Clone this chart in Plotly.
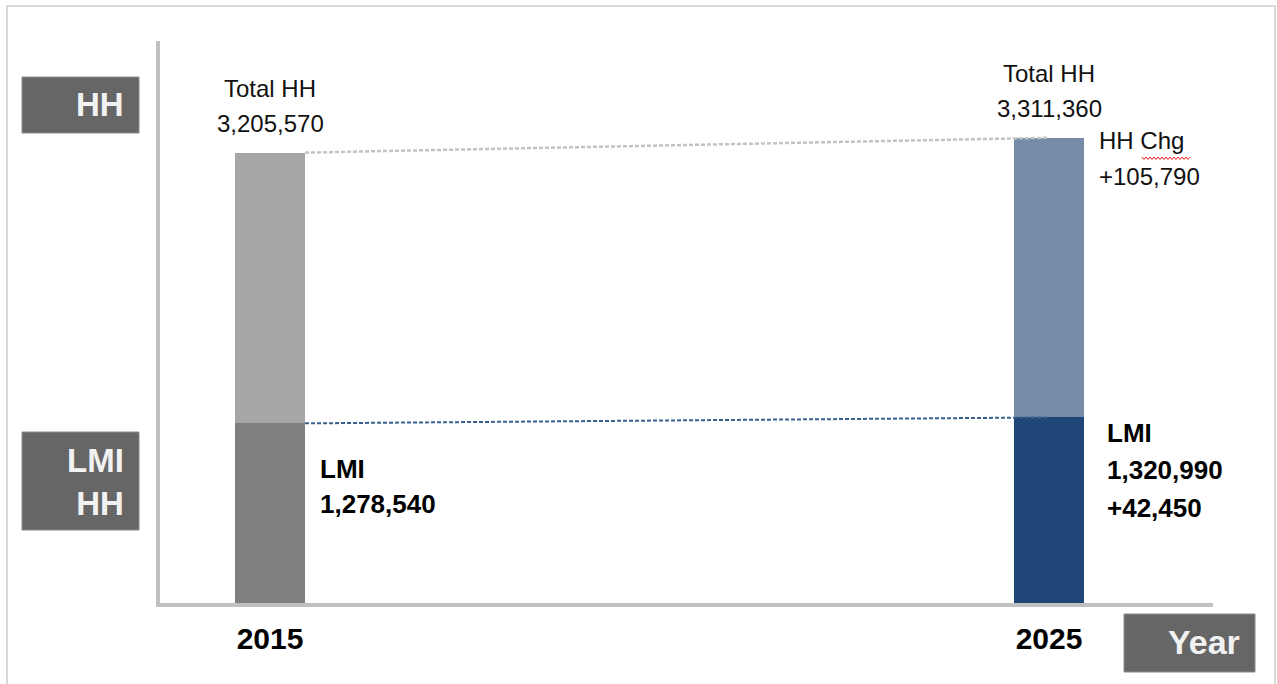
import plotly.graph_objects as go

# ---- data ----
years = [2015, 2025]
tick_labels = ["2015", "2025"]
total_hh = [3205570, 3311360]
lmi_hh = [1278540, 1320990]
hh_change = 105790
lmi_change = 42450

# ---- geometry helpers (pixel -> paper) ----
W, H = 1277, 684
L, R, T, B = 160, 64, 41, 81
PW, PH = W - L - R, H - T - B


def px(x):
    return (x - L) / PW


def py(y):
    return (H - B - y) / PH


non_lmi = [t - l for t, l in zip(total_hh, lmi_hh)]
BAR_W = 0.9

FONT = "Liberation Sans, Arial, sans-serif"

fig = go.Figure()
fig.add_trace(go.Bar(x=years, y=lmi_hh, width=BAR_W,
                     marker=dict(color=["#7f7f7f", "#1f4677"], line_width=0),
                     hoverinfo="skip"))
fig.add_trace(go.Bar(x=years, y=non_lmi, width=BAR_W,
                     marker=dict(color=["#a6a6a6", "#768ba8"], line_width=0),
                     hoverinfo="skip"))
# connector lines between bar tops
fig.add_trace(go.Scatter(x=[years[0] + BAR_W / 2, years[1]], y=total_hh, mode="lines",
                         line=dict(color="#c3c3c3", width=2.5, dash="4px,2px"),
                         hoverinfo="skip"))
fig.add_trace(go.Scatter(x=[years[0] + BAR_W / 2, years[1]], y=lmi_hh, mode="lines",
                         line=dict(color="#3a5f8f", width=2, dash="4px,2px"),
                         hoverinfo="skip"))

ann = []
norm_font = dict(family=FONT, size=24, color="#111111")
bold_font = dict(family=FONT, size=26, color="#000000")

# totals above bars (one annotation per line)
for yr, tot in zip(years, total_hh):
    for txt, shift in [("Total HH", 64), (f"{tot:,}", 29)]:
        ann.append(dict(x=yr, y=tot, xref="x", yref="y", yanchor="middle", xanchor="center",
                        yshift=shift, showarrow=False, text=txt, font=norm_font))


def side_lines(year, xshift, lines, centers, font):
    for txt, cy in zip(lines, centers):
        ann.append(dict(x=year, xref="x", xshift=xshift, y=py(cy), yref="paper",
                        xanchor="left", yanchor="middle", showarrow=False, text=txt,
                        font=font))


side_lines(years[0], 48, ["<b>LMI</b>", f"<b>{lmi_hh[0]:,}</b>"], [468.5, 504], bold_font)
side_lines(years[1], 56, ["<b>LMI</b>", f"<b>{lmi_hh[1]:,}</b>", f"<b>+{lmi_change:,}</b>"],
           [432.5, 469.5, 507.5], bold_font)
side_lines(years[1], 48, ["HH Chg", f"+{hh_change:,}"], [140.5, 176.5], norm_font)

# grey boxes labels
box_font = dict(family=FONT, size=33, color="#f2f2f2")
ann.append(dict(x=px(126), y=py(105), xref="paper", yref="paper", xanchor="right",
                yanchor="middle", showarrow=False, align="right", text="<b>HH</b>", font=box_font))
ann.append(dict(x=px(126), y=py(482), xref="paper", yref="paper", xanchor="right",
                yanchor="middle", showarrow=False, align="right", text="<b>LMI<br>HH</b>",
                font=box_font))
ann.append(dict(x=px(1242), y=py(642), xref="paper", yref="paper", xanchor="right",
                yanchor="middle", showarrow=False, align="right", text="<b>Year</b>",
                font=dict(family=FONT, size=34, color="#f2f2f2")))

shapes = []
# outer frame
shapes.append(dict(type="rect", xref="paper", yref="paper", x0=px(7), x1=px(1275),
                   y0=py(700), y1=py(6), line=dict(color="#d9d9d9", width=2),
                   fillcolor="rgba(0,0,0,0)", layer="below"))
for (x0, x1, y0, y1) in [(22, 139, 77, 133), (22, 139, 432, 530), (1124, 1255, 614, 672)]:
    shapes.append(dict(type="rect", xref="paper", yref="paper", x0=px(x0), x1=px(x1),
                       y0=py(y1), y1=py(y0), fillcolor="#666666",
                       line=dict(color="#8c8c8c", width=1), layer="above"))
# spell-check squiggle under "Chg"
pts = []
xx = 1142
i = 0
while xx <= 1190:
    yy = 157 if i % 2 == 0 else 159.5
    pts.append(f"{px(xx):.5f},{py(yy):.5f}")
    xx += 2
    i += 1
shapes.append(dict(type="path", xref="paper", yref="paper",
                   path="M" + " L".join(pts), line=dict(color="#e02020", width=1)))

fig.update_layout(
    width=W, height=H, barmode="stack", showlegend=False,
    margin=dict(l=L, r=R, t=T, b=B),
    paper_bgcolor="white", plot_bgcolor="white",
    xaxis=dict(range=[2013.588, 2027.105], showline=True, linecolor="#c0c0c0", linewidth=4,
               showgrid=False, zeroline=False, tickvals=years,
               ticktext=[f"<b>{t}</b>" for t in tick_labels],
               ticks="outside", ticklen=6, tickcolor="rgba(0,0,0,0)",
               tickfont=dict(family=FONT, size=30, color="#000000"), fixedrange=True),
    yaxis=dict(range=[0, 4000000], showline=True, linecolor="#c0c0c0", linewidth=4,
               showgrid=False, zeroline=False, showticklabels=False, ticks="", fixedrange=True),
    annotations=ann, shapes=shapes,
)

fig.write_html("out.html")
